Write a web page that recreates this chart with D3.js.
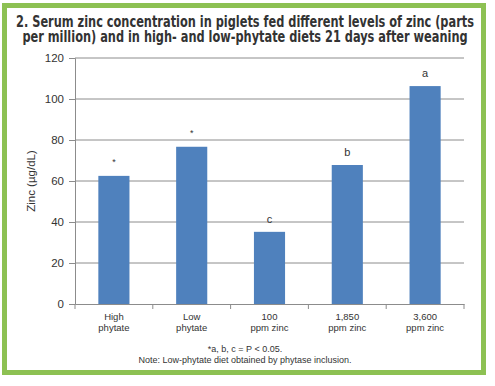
<!DOCTYPE html>
<html>
<head>
<meta charset="utf-8">
<script src="https://cdn.jsdelivr.net/npm/d3@7"></script>
<style>
  body { margin: 0; background: #fff; }
  svg text { font-family: "Liberation Sans", Arial, sans-serif; }
  svg text.title { font-family: "Liberation Sans Narrow", "DejaVu Sans Condensed", "Roboto", sans-serif; }
</style>
</head>
<body>
<svg></svg>
<script>
const categories = [["High", "phytate"], ["Low", "phytate"], ["100", "ppm zinc"], ["1,850", "ppm zinc"], ["3,600", "ppm zinc"]];
const values = [62.5, 76.7, 35.2, 67.8, 106.3];
const marks = ["*", "*", "c", "b", "a"];
const yTicks = [0, 20, 40, 60, 80, 100, 120];
const titleLines = ["2. Serum zinc concentration in piglets fed different levels of zinc (parts",
                    "per million) and in high- and low-phytate diets 21 days after weaning"];
const notes = ["*a, b, c = P < 0.05.", "Note: Low-phytate diet obtained by phytase inclusion."];

const width = 495, height = 386;
const margin = {top: 58, right: 31, bottom: 82, left: 75};

let svg = d3.select("svg").attr("width", width).attr("height", height);

// green frame
svg.append("rect")
   .attr("x", 4.5).attr("y", 5.5)
   .attr("width", 479).attr("height", 367)
   .attr("fill", "none")
   .attr("stroke", "#8dc153")
   .attr("stroke-width", 5);

// title - one text, squeezed horizontally to look like a condensed face
let title = svg.append("text")
   .attr("class", "title")
   .attr("text-anchor", "middle")
   .attr("font-size", 16)
   .attr("font-weight", "bold")
   .attr("fill", "#333");
title.selectAll("tspan")
   .data(titleLines)
   .enter()
   .append("tspan")
   .attr("x", 0)
   .attr("dy", (d, i) => i === 0 ? 0 : 15)
   .text(d => d);
let firstW = title.select("tspan").node().getComputedTextLength();
title.attr("transform", `translate(245,27) scale(${458 / firstW},1)`);

let xScale = d3.scaleBand().domain(d3.range(categories.length))
  .range([margin.left, width - margin.right]);
let yScale = d3.scaleLinear().domain([0, 120]).range([height - margin.bottom, margin.top]);

let barW = xScale.bandwidth() * 0.4;

// gridlines
svg.selectAll(".grid")
   .data(yTicks.slice(1))
   .enter()
   .append("line")
   .attr("x1", margin.left).attr("x2", width - margin.right)
   .attr("y1", d => yScale(d)).attr("y2", d => yScale(d))
   .attr("stroke", "#8c8c8c")
   .attr("stroke-width", 1);

// bars
svg.selectAll(".bar")
   .data(values)
   .enter()
   .append("rect")
   .attr("x", (d, i) => xScale(i) + (xScale.bandwidth() - barW) / 2)
   .attr("y", d => yScale(d))
   .attr("width", barW)
   .attr("height", d => yScale(0) - yScale(d))
   .attr("fill", "#4f81bd");

// significance marks
svg.selectAll(".mark")
   .data(values)
   .enter()
   .append("text")
   .attr("x", (d, i) => xScale(i) + xScale.bandwidth() / 2)
   .attr("y", (d, i) => yScale(d) - (marks[i] === "*" ? 11 : 9))
   .attr("text-anchor", "middle")
   .attr("font-size", (d, i) => marks[i] === "*" ? 9 : 11)
   .attr("fill", "#333")
   .text((d, i) => marks[i]);

// y axis
let yAxis = d3.axisLeft(yScale).tickValues(yTicks).tickSize(6).tickPadding(5);
let gy = svg.append("g").attr("transform", `translate(${margin.left},0)`).call(yAxis);
gy.select(".domain").attr("stroke", "#8c8c8c");
gy.selectAll(".tick line").attr("stroke", "#8c8c8c");
gy.selectAll("text").attr("font-size", 11.5).attr("fill", "#333")
  .attr("font-family", "Liberation Sans, Arial, sans-serif");

// x axis
let xAxis = d3.axisBottom(xScale).tickSize(0).tickFormat("");
let gx = svg.append("g").attr("transform", `translate(0,${yScale(0)})`).call(xAxis);
gx.select(".domain").attr("stroke", "#8c8c8c");
gx.selectAll(".sep")
  .data(d3.range(categories.length + 1))
  .enter()
  .append("line")
  .attr("x1", i => margin.left + i * xScale.step())
  .attr("x2", i => margin.left + i * xScale.step())
  .attr("y1", 0).attr("y2", 5)
  .attr("stroke", "#8c8c8c");

// category labels
categories.forEach((lines, i) => {
  svg.append("text")
     .attr("x", xScale(i) + xScale.bandwidth() / 2)
     .attr("y", 320)
     .attr("text-anchor", "middle")
     .attr("font-size", 9.5)
     .attr("fill", "#333")
     .selectAll("tspan")
     .data(lines)
     .enter()
     .append("tspan")
     .attr("x", xScale(i) + xScale.bandwidth() / 2)
     .attr("dy", (d, j) => j === 0 ? 0 : 11)
     .text(d => d);
});

// y axis title
svg.append("text")
   .attr("transform", `translate(35,${(yScale(0) + yScale(120)) / 2}) rotate(-90)`)
   .attr("text-anchor", "middle")
   .attr("font-size", 11.5)
   .attr("fill", "#333")
   .text("Zinc (µg/dL)");

// footnotes
svg.selectAll(".note")
   .data(notes)
   .enter()
   .append("text")
   .attr("x", 245)
   .attr("y", (d, i) => 352 + i * 11)
   .attr("text-anchor", "middle")
   .attr("font-size", 9)
   .attr("fill", "#333")
   .text(d => d);
</script>
</body>
</html>
